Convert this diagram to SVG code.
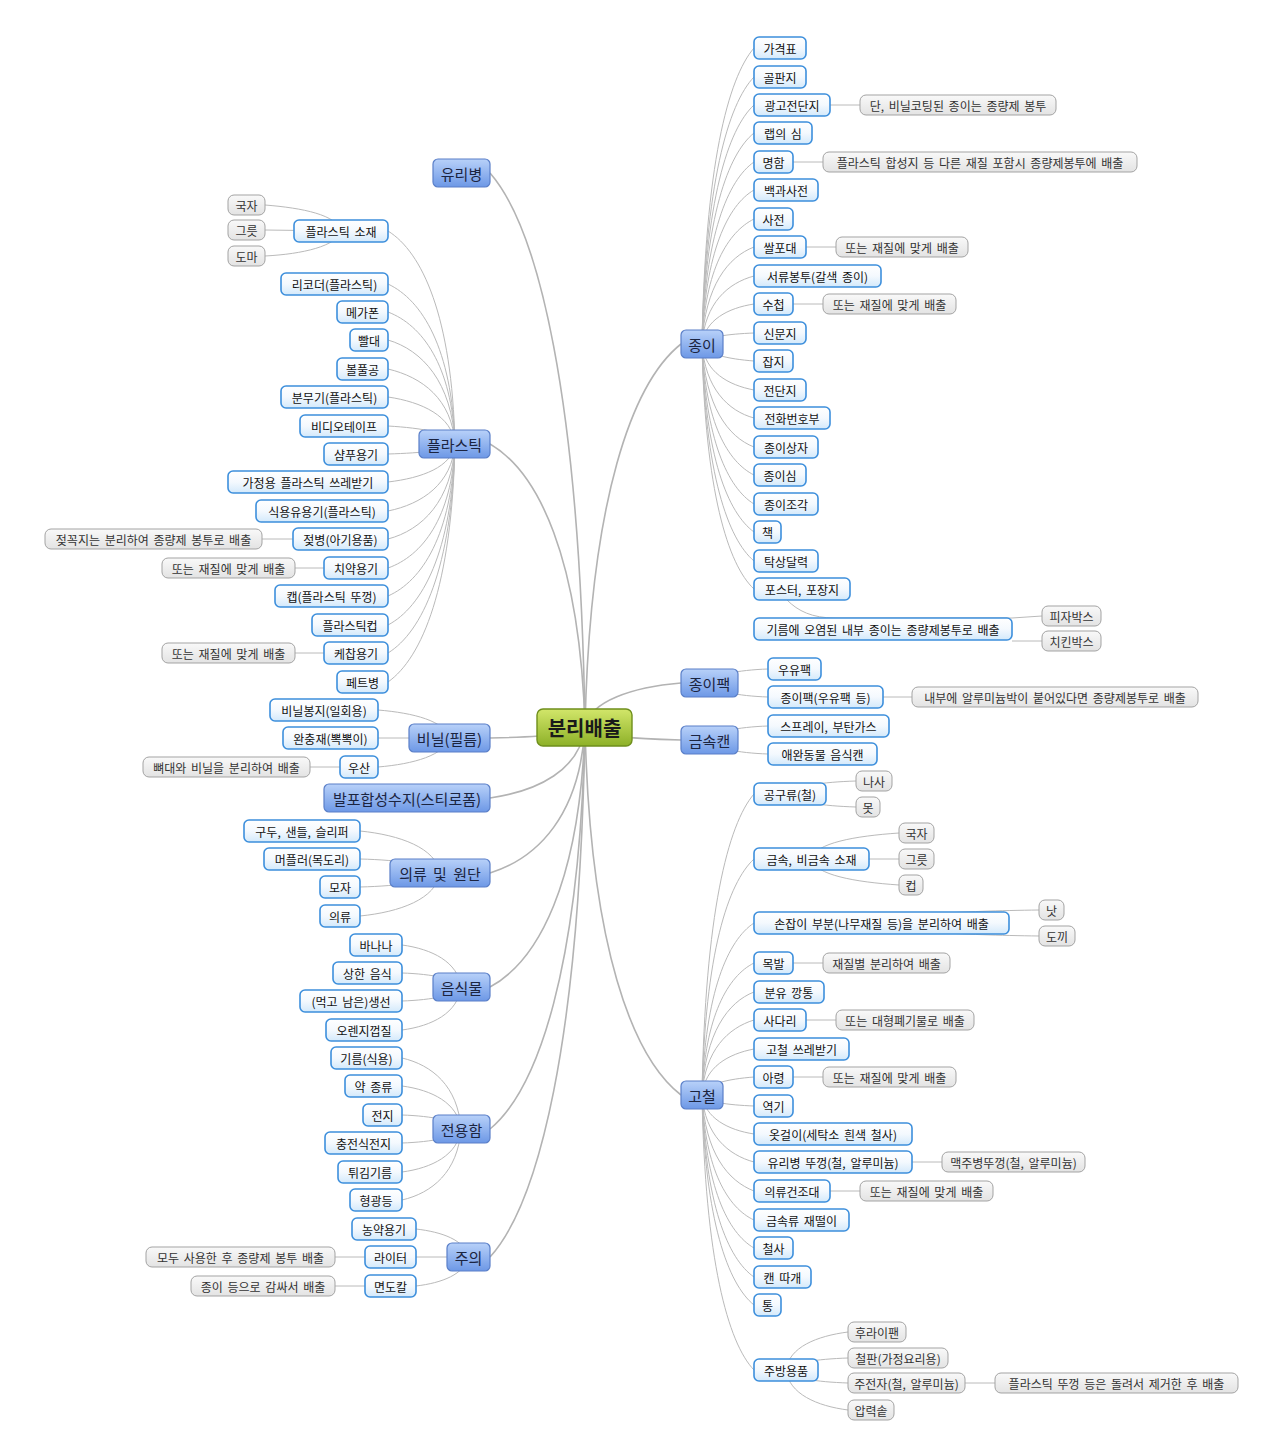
<svg xmlns="http://www.w3.org/2000/svg" width="1280" height="1456" viewBox="0 0 1280 1456">
<defs>
<linearGradient id="g0" x1="0" y1="0" x2="0" y2="1"><stop offset="0" stop-color="#d2e66a"/><stop offset="1" stop-color="#8db128"/></linearGradient>
<linearGradient id="g1" x1="0" y1="0" x2="0" y2="1"><stop offset="0" stop-color="#b8d1f9"/><stop offset="1" stop-color="#6d98e6"/></linearGradient>
<linearGradient id="g2" x1="0" y1="0" x2="0" y2="1"><stop offset="0" stop-color="#ffffff"/><stop offset="0.5" stop-color="#f4f9fe"/><stop offset="1" stop-color="#d3e9fb"/></linearGradient>
<linearGradient id="g3" x1="0" y1="0" x2="0" y2="1"><stop offset="0" stop-color="#f9f9f9"/><stop offset="1" stop-color="#e3e3e3"/></linearGradient>
</defs>
<style>
.c path{fill:none;stroke:#bababa;stroke-width:1}
.c .m{stroke:#b3b3b3;stroke-width:1.6}
.l1 rect{fill:url(#g1);stroke:#5a7fc8;stroke-width:1.2}
.l2 rect{fill:url(#g2);stroke:#3d8fdc;stroke-width:1.6}
.nt rect{fill:url(#g3);stroke:#a3a3a3;stroke-width:1}
text{font-family:"Noto Sans CJK KR","Noto Sans",sans-serif;text-anchor:middle;dominant-baseline:central}
.l1 text{font-size:15px;fill:#1b2440;word-spacing:3px}
.l2 text{font-size:12px;fill:#111;word-spacing:2px}
.nt text{font-size:12px;fill:#333;word-spacing:2px}
#root rect{fill:url(#g0);stroke:#6f8f1c;stroke-width:1.4}
#root text{font-size:20px;font-weight:bold;fill:#1a1a1a}
</style>
<rect width="1280" height="1456" fill="#ffffff"/>
<g class="c">
<path class="m" d="M585 727C580 395 538 228 490 173"/>
<path class="m" d="M585 727C580 557 538 472 490 444"/>
<path class="m" d="M585 727C580 734 538 737 490 738"/>
<path class="m" d="M585 727C580 770 538 791 490 798"/>
<path class="m" d="M585 727C580 815 538 858 490 873"/>
<path class="m" d="M585 727C580 883 538 961 490 987"/>
<path class="m" d="M585 727C580 968 538 1089 490 1129"/>
<path class="m" d="M585 727C580 1045 538 1204 490 1257"/>
<path class="m" d="M585 727C590 497 633 382 681 344"/>
<path class="m" d="M585 727C590 701 633 687 681 683"/>
<path class="m" d="M585 727C590 735 633 739 681 740"/>
<path class="m" d="M585 727C590 948 633 1058 681 1095"/>
<path d="M702 344C705 166 728 78 754 48"/>
<path d="M702 344C705 184 728 104 754 77"/>
<path d="M702 344C705 201 728 129 754 105"/>
<path d="M702 344C705 217 728 154 754 133"/>
<path d="M702 344C705 235 728 180 754 162"/>
<path d="M702 344C705 252 728 205 754 190"/>
<path d="M702 344C705 269 728 232 754 219"/>
<path d="M702 344C705 286 728 257 754 247"/>
<path d="M702 344C705 303 728 283 754 276"/>
<path d="M702 344C705 320 728 308 754 304"/>
<path d="M702 344C705 337 728 334 754 333"/>
<path d="M702 344C705 354 728 359 754 361"/>
<path d="M702 344C705 372 728 385 754 390"/>
<path d="M702 344C705 388 728 411 754 418"/>
<path d="M702 344C705 406 728 437 754 447"/>
<path d="M702 344C705 423 728 462 754 475"/>
<path d="M702 344C705 440 728 488 754 504"/>
<path d="M702 344C705 457 728 513 754 532"/>
<path d="M702 344C705 474 728 539 754 561"/>
<path d="M702 344C705 491 728 565 754 589"/>
<path d="M787 600C798 611 812 618 835 618L1012 618L1042 616"/>
<path d="M1012 641L1042 641"/>
<path d="M830 105L860 105"/>
<path d="M793 162L823 162"/>
<path d="M806 247L836 247"/>
<path d="M793 304L823 304"/>
<path d="M709 683C712 675 738 670 768 669"/>
<path d="M709 683C712 691 738 696 768 697"/>
<path d="M883 697L912 697"/>
<path d="M709 740C712 732 738 727 768 726"/>
<path d="M709 740C712 748 738 753 768 754"/>
<path d="M702 1095C705 914 728 824 754 794"/>
<path d="M702 1095C705 953 728 883 754 859"/>
<path d="M702 1095C705 992 728 940 754 923"/>
<path d="M702 1095C705 1016 728 976 754 963"/>
<path d="M702 1095C705 1033 728 1002 754 992"/>
<path d="M702 1095C705 1050 728 1028 754 1020"/>
<path d="M702 1095C705 1067 728 1054 754 1049"/>
<path d="M702 1095C705 1084 728 1079 754 1077"/>
<path d="M702 1095C705 1102 728 1105 754 1106"/>
<path d="M702 1095C705 1118 728 1130 754 1134"/>
<path d="M702 1095C705 1135 728 1155 754 1162"/>
<path d="M702 1095C705 1153 728 1181 754 1191"/>
<path d="M702 1095C705 1170 728 1208 754 1220"/>
<path d="M702 1095C705 1187 728 1233 754 1248"/>
<path d="M702 1095C705 1204 728 1259 754 1277"/>
<path d="M702 1095C705 1221 728 1284 754 1305"/>
<path d="M702 1095C705 1260 728 1343 754 1370"/>
<path d="M790 794C793 786 823 782 856 781"/>
<path d="M790 794C793 802 823 806 856 807"/>
<path d="M811 859C815 843 855 836 899 833"/>
<path d="M811 859L899 859"/>
<path d="M811 859C815 875 855 882 899 885"/>
<path d="M881 923C889 915 960 911 1039 910"/>
<path d="M881 923C889 931 960 935 1039 936"/>
<path d="M793 963L823 963"/>
<path d="M806 1020L836 1020"/>
<path d="M793 1077L823 1077"/>
<path d="M912 1162L942 1162"/>
<path d="M830 1191L860 1191"/>
<path d="M786 1370C789 1347 817 1336 848 1332"/>
<path d="M786 1370C789 1363 817 1359 848 1358"/>
<path d="M786 1370C789 1378 817 1382 848 1383"/>
<path d="M786 1370C789 1394 817 1406 848 1410"/>
<path d="M965 1383L995 1383"/>
<path d="M455 444C452 316 422 252 388 231"/>
<path d="M455 444C452 348 422 300 388 284"/>
<path d="M455 444C452 365 422 325 388 312"/>
<path d="M455 444C452 382 422 350 388 340"/>
<path d="M455 444C452 399 422 377 388 369"/>
<path d="M455 444C452 416 422 402 388 397"/>
<path d="M455 444C452 433 422 428 388 426"/>
<path d="M455 444C452 450 422 453 388 454"/>
<path d="M455 444C452 467 422 478 388 482"/>
<path d="M455 444C452 484 422 504 388 511"/>
<path d="M455 444C452 501 422 530 388 539"/>
<path d="M455 444C452 518 422 556 388 568"/>
<path d="M455 444C452 535 422 581 388 596"/>
<path d="M455 444C452 553 422 607 388 625"/>
<path d="M455 444C452 569 422 632 388 653"/>
<path d="M455 444C452 587 422 658 388 682"/>
<path d="M341 231C337 215 303 208 265 205"/>
<path d="M341 231L265 230"/>
<path d="M341 231C337 246 303 254 265 256"/>
<path d="M293 539L262 539"/>
<path d="M324 568L295 568"/>
<path d="M324 653L295 653"/>
<path d="M449 738C445 721 414 713 378 710"/>
<path d="M449 738L378 738"/>
<path d="M449 738C445 755 414 764 378 767"/>
<path d="M340 767L310 767"/>
<path d="M440 873C436 848 400 835 360 831"/>
<path d="M440 873C436 865 400 860 360 859"/>
<path d="M440 873C436 881 400 886 360 887"/>
<path d="M440 873C436 899 400 912 360 916"/>
<path d="M461 987C458 962 432 949 402 945"/>
<path d="M461 987C458 979 432 974 402 973"/>
<path d="M461 987C458 995 432 1000 402 1001"/>
<path d="M461 987C458 1013 432 1026 402 1030"/>
<path d="M461 1129C458 1086 432 1065 402 1058"/>
<path d="M461 1129C458 1103 432 1090 402 1086"/>
<path d="M461 1129C458 1121 432 1116 402 1115"/>
<path d="M461 1129C458 1137 432 1142 402 1143"/>
<path d="M461 1129C458 1155 432 1168 402 1172"/>
<path d="M461 1129C458 1172 432 1193 402 1200"/>
<path d="M468 1257C465 1240 442 1232 416 1229"/>
<path d="M468 1257L416 1257"/>
<path d="M468 1257C465 1274 442 1283 416 1286"/>
<path d="M365 1257L335 1257"/>
<path d="M365 1286L335 1286"/>
</g>
<g id="root"><rect x="537" y="709" width="95" height="37" rx="6"/><text x="584.5" y="727.5">분리배출</text></g>
<g id="n-yuribyeong" class="l1"><rect x="433" y="159" width="57" height="28" rx="5"/><text x="461.5" y="173">유리병</text></g>
<g id="n-plastic" class="l1"><rect x="419" y="430" width="71" height="28" rx="5"/><text x="454.5" y="444">플라스틱</text></g>
<g id="n-vinyl" class="l1"><rect x="409" y="724" width="81" height="28" rx="5"/><text x="449.5" y="738">비닐(필름)</text></g>
<g id="n-styro" class="l1"><rect x="324" y="784" width="166" height="28" rx="5"/><text x="407" y="798">발포합성수지(스티로폼)</text></g>
<g id="n-cloth" class="l1"><rect x="390" y="859" width="100" height="28" rx="5"/><text x="440" y="873">의류 및 원단</text></g>
<g id="n-food" class="l1"><rect x="433" y="973" width="57" height="28" rx="5"/><text x="461.5" y="987">음식물</text></g>
<g id="n-special" class="l1"><rect x="433" y="1115" width="57" height="28" rx="5"/><text x="461.5" y="1129">전용함</text></g>
<g id="n-caution" class="l1"><rect x="447" y="1243" width="43" height="28" rx="5"/><text x="468.5" y="1257">주의</text></g>
<g id="n-paper" class="l1"><rect x="681" y="330" width="42" height="28" rx="5"/><text x="702" y="344">종이</text></g>
<g id="n-paperpack" class="l1"><rect x="681" y="669" width="57" height="28" rx="5"/><text x="709.5" y="683">종이팩</text></g>
<g id="n-can" class="l1"><rect x="681" y="726" width="57" height="28" rx="5"/><text x="709.5" y="740">금속캔</text></g>
<g id="n-scrap" class="l1"><rect x="681" y="1081" width="42" height="28" rx="5"/><text x="702" y="1095">고철</text></g>
<g id="p1" class="l2"><rect x="754" y="37" width="52" height="22" rx="5"/><text x="780" y="48">가격표</text></g>
<g id="p2" class="l2"><rect x="754" y="66" width="52" height="22" rx="5"/><text x="780" y="77">골판지</text></g>
<g id="p3" class="l2"><rect x="754" y="94" width="76" height="22" rx="5"/><text x="792" y="105">광고전단지</text></g>
<g id="p4" class="l2"><rect x="754" y="122" width="58" height="22" rx="5"/><text x="783" y="133">랩의 심</text></g>
<g id="p5" class="l2"><rect x="754" y="151" width="39" height="22" rx="5"/><text x="773.5" y="162">명함</text></g>
<g id="p6" class="l2"><rect x="754" y="179" width="64" height="22" rx="5"/><text x="786" y="190">백과사전</text></g>
<g id="p7" class="l2"><rect x="754" y="208" width="39" height="22" rx="5"/><text x="773.5" y="219">사전</text></g>
<g id="p8" class="l2"><rect x="754" y="236" width="52" height="22" rx="5"/><text x="780" y="247">쌀포대</text></g>
<g id="p9" class="l2"><rect x="754" y="265" width="127" height="22" rx="5"/><text x="817.5" y="276">서류봉투(갈색 종이)</text></g>
<g id="p10" class="l2"><rect x="754" y="293" width="39" height="22" rx="5"/><text x="773.5" y="304">수첩</text></g>
<g id="p11" class="l2"><rect x="754" y="322" width="52" height="22" rx="5"/><text x="780" y="333">신문지</text></g>
<g id="p12" class="l2"><rect x="754" y="350" width="39" height="22" rx="5"/><text x="773.5" y="361">잡지</text></g>
<g id="p13" class="l2"><rect x="754" y="379" width="52" height="22" rx="5"/><text x="780" y="390">전단지</text></g>
<g id="p14" class="l2"><rect x="754" y="407" width="76" height="22" rx="5"/><text x="792" y="418">전화번호부</text></g>
<g id="p15" class="l2"><rect x="754" y="436" width="64" height="22" rx="5"/><text x="786" y="447">종이상자</text></g>
<g id="p16" class="l2"><rect x="754" y="464" width="52" height="22" rx="5"/><text x="780" y="475">종이심</text></g>
<g id="p17" class="l2"><rect x="754" y="493" width="64" height="22" rx="5"/><text x="786" y="504">종이조각</text></g>
<g id="p18" class="l2"><rect x="754" y="521" width="27" height="22" rx="5"/><text x="767.5" y="532">책</text></g>
<g id="p19" class="l2"><rect x="754" y="550" width="64" height="22" rx="5"/><text x="786" y="561">탁상달력</text></g>
<g id="p20" class="l2"><rect x="754" y="578" width="96" height="22" rx="5"/><text x="802" y="589">포스터, 포장지</text></g>
<g id="p21" class="l2"><rect x="754" y="618" width="258" height="22" rx="5"/><text x="883" y="629">기름에 오염된 내부 종이는 종량제봉투로 배출</text></g>
<g id="p21a" class="nt"><rect x="1042" y="606" width="59" height="20" rx="6"/><text x="1071.5" y="616">피자박스</text></g>
<g id="p21b" class="nt"><rect x="1042" y="631" width="59" height="20" rx="6"/><text x="1071.5" y="641">치킨박스</text></g>
<g id="p3n" class="nt"><rect x="860" y="95" width="196" height="20" rx="6"/><text x="958" y="105">단, 비닐코팅된 종이는 종량제 봉투</text></g>
<g id="p5n" class="nt"><rect x="823" y="152" width="314" height="20" rx="6"/><text x="980" y="162">플라스틱 합성지 등 다른 재질 포함시 종량제봉투에 배출</text></g>
<g id="p8n" class="nt"><rect x="836" y="237" width="132" height="20" rx="6"/><text x="902" y="247">또는 재질에 맞게 배출</text></g>
<g id="p10n" class="nt"><rect x="823" y="294" width="133" height="20" rx="6"/><text x="889.5" y="304">또는 재질에 맞게 배출</text></g>
<g id="k1" class="l2"><rect x="768" y="658" width="53" height="22" rx="5"/><text x="794.5" y="669">우유팩</text></g>
<g id="k2" class="l2"><rect x="768" y="686" width="115" height="22" rx="5"/><text x="825.5" y="697">종이팩(우유팩 등)</text></g>
<g id="k2n" class="nt"><rect x="912" y="687" width="286" height="20" rx="6"/><text x="1055" y="697">내부에 알루미늄박이 붙어있다면 종량제봉투로 배출</text></g>
<g id="m1" class="l2"><rect x="768" y="715" width="121" height="22" rx="5"/><text x="828.5" y="726">스프레이, 부탄가스</text></g>
<g id="m2" class="l2"><rect x="768" y="743" width="109" height="22" rx="5"/><text x="822.5" y="754">애완동물 음식캔</text></g>
<g id="s1" class="l2"><rect x="754" y="783" width="72" height="22" rx="5"/><text x="790" y="794">공구류(철)</text></g>
<g id="s1a" class="nt"><rect x="856" y="771" width="36" height="20" rx="6"/><text x="874" y="781">나사</text></g>
<g id="s1b" class="nt"><rect x="856" y="797" width="24" height="20" rx="6"/><text x="868" y="807">못</text></g>
<g id="s2" class="l2"><rect x="754" y="848" width="115" height="22" rx="5"/><text x="811.5" y="859">금속, 비금속 소재</text></g>
<g id="s2a" class="nt"><rect x="899" y="823" width="35" height="20" rx="6"/><text x="916.5" y="833">국자</text></g>
<g id="s2b" class="nt"><rect x="899" y="849" width="35" height="20" rx="6"/><text x="916.5" y="859">그릇</text></g>
<g id="s2c" class="nt"><rect x="899" y="875" width="24" height="20" rx="6"/><text x="911" y="885">컵</text></g>
<g id="s3" class="l2"><rect x="754" y="912" width="255" height="22" rx="5"/><text x="881.5" y="923">손잡이 부분(나무재질 등)을 분리하여 배출</text></g>
<g id="s3a" class="nt"><rect x="1039" y="900" width="25" height="20" rx="6"/><text x="1051.5" y="910">낫</text></g>
<g id="s3b" class="nt"><rect x="1039" y="926" width="36" height="20" rx="6"/><text x="1057" y="936">도끼</text></g>
<g id="s4" class="l2"><rect x="754" y="952" width="39" height="22" rx="5"/><text x="773.5" y="963">목발</text></g>
<g id="s4n" class="nt"><rect x="823" y="953" width="127" height="20" rx="6"/><text x="886.5" y="963">재질별 분리하여 배출</text></g>
<g id="s5" class="l2"><rect x="754" y="981" width="70" height="22" rx="5"/><text x="789" y="992">분유 깡통</text></g>
<g id="s6" class="l2"><rect x="754" y="1009" width="52" height="22" rx="5"/><text x="780" y="1020">사다리</text></g>
<g id="s6n" class="nt"><rect x="836" y="1010" width="138" height="20" rx="6"/><text x="905" y="1020">또는 대형폐기물로 배출</text></g>
<g id="s7" class="l2"><rect x="754" y="1038" width="95" height="22" rx="5"/><text x="801.5" y="1049">고철 쓰레받기</text></g>
<g id="s8" class="l2"><rect x="754" y="1066" width="39" height="22" rx="5"/><text x="773.5" y="1077">아령</text></g>
<g id="s8n" class="nt"><rect x="823" y="1067" width="133" height="20" rx="6"/><text x="889.5" y="1077">또는 재질에 맞게 배출</text></g>
<g id="s9" class="l2"><rect x="754" y="1095" width="39" height="22" rx="5"/><text x="773.5" y="1106">역기</text></g>
<g id="s10" class="l2"><rect x="754" y="1123" width="158" height="22" rx="5"/><text x="833" y="1134">옷걸이(세탁소 흰색 철사)</text></g>
<g id="s11" class="l2"><rect x="754" y="1151" width="158" height="22" rx="5"/><text x="833" y="1162">유리병 뚜껑(철, 알루미늄)</text></g>
<g id="s11n" class="nt"><rect x="942" y="1152" width="143" height="20" rx="6"/><text x="1013.5" y="1162">맥주병뚜껑(철, 알루미늄)</text></g>
<g id="s12" class="l2"><rect x="754" y="1180" width="76" height="22" rx="5"/><text x="792" y="1191">의류건조대</text></g>
<g id="s12n" class="nt"><rect x="860" y="1181" width="133" height="20" rx="6"/><text x="926.5" y="1191">또는 재질에 맞게 배출</text></g>
<g id="s13" class="l2"><rect x="754" y="1209" width="95" height="22" rx="5"/><text x="801.5" y="1220">금속류 재떨이</text></g>
<g id="s14" class="l2"><rect x="754" y="1237" width="39" height="22" rx="5"/><text x="773.5" y="1248">철사</text></g>
<g id="s15" class="l2"><rect x="754" y="1266" width="57" height="22" rx="5"/><text x="782.5" y="1277">캔 따개</text></g>
<g id="s16" class="l2"><rect x="754" y="1294" width="27" height="22" rx="5"/><text x="767.5" y="1305">통</text></g>
<g id="s17" class="l2"><rect x="754" y="1359" width="64" height="22" rx="5"/><text x="786" y="1370">주방용품</text></g>
<g id="s17a" class="nt"><rect x="848" y="1322" width="58" height="20" rx="6"/><text x="877" y="1332">후라이팬</text></g>
<g id="s17b" class="nt"><rect x="848" y="1348" width="100" height="20" rx="6"/><text x="898" y="1358">철판(가정요리용)</text></g>
<g id="s17c" class="nt"><rect x="848" y="1373" width="117" height="20" rx="6"/><text x="906.5" y="1383">주전자(철, 알루미늄)</text></g>
<g id="s17d" class="nt"><rect x="848" y="1400" width="46" height="20" rx="6"/><text x="871" y="1410">압력솥</text></g>
<g id="s17cn" class="nt"><rect x="995" y="1373" width="243" height="20" rx="6"/><text x="1116.5" y="1383">플라스틱 뚜껑 등은 돌려서 제거한 후 배출</text></g>
<g id="a0" class="l2"><rect x="294" y="220" width="94" height="22" rx="5"/><text x="341" y="231">플라스틱 소재</text></g>
<g id="a0a" class="nt"><rect x="228" y="195" width="37" height="20" rx="6"/><text x="246.5" y="205">국자</text></g>
<g id="a0b" class="nt"><rect x="228" y="220" width="37" height="20" rx="6"/><text x="246.5" y="230">그릇</text></g>
<g id="a0c" class="nt"><rect x="228" y="246" width="37" height="20" rx="6"/><text x="246.5" y="256">도마</text></g>
<g id="a1" class="l2"><rect x="281" y="273" width="107" height="22" rx="5"/><text x="334.5" y="284">리코더(플라스틱)</text></g>
<g id="a2" class="l2"><rect x="337" y="301" width="51" height="22" rx="5"/><text x="362.5" y="312">메가폰</text></g>
<g id="a3" class="l2"><rect x="350" y="329" width="38" height="22" rx="5"/><text x="369" y="340">빨대</text></g>
<g id="a4" class="l2"><rect x="337" y="358" width="51" height="22" rx="5"/><text x="362.5" y="369">볼풀공</text></g>
<g id="a5" class="l2"><rect x="281" y="386" width="107" height="22" rx="5"/><text x="334.5" y="397">분무기(플라스틱)</text></g>
<g id="a6" class="l2"><rect x="300" y="415" width="88" height="22" rx="5"/><text x="344" y="426">비디오테이프</text></g>
<g id="a7" class="l2"><rect x="324" y="443" width="64" height="22" rx="5"/><text x="356" y="454">샴푸용기</text></g>
<g id="a8" class="l2"><rect x="228" y="471" width="160" height="22" rx="5"/><text x="308" y="482">가정용 플라스틱 쓰레받기</text></g>
<g id="a9" class="l2"><rect x="256" y="500" width="132" height="22" rx="5"/><text x="322" y="511">식용유용기(플라스틱)</text></g>
<g id="a10" class="l2"><rect x="293" y="528" width="95" height="22" rx="5"/><text x="340.5" y="539">젖병(아기용품)</text></g>
<g id="a10n" class="nt"><rect x="45" y="529" width="217" height="20" rx="6"/><text x="153.5" y="539">젖꼭지는 분리하여 종량제 봉투로 배출</text></g>
<g id="a11" class="l2"><rect x="324" y="557" width="64" height="22" rx="5"/><text x="356" y="568">치약용기</text></g>
<g id="a11n" class="nt"><rect x="162" y="558" width="133" height="20" rx="6"/><text x="228.5" y="568">또는 재질에 맞게 배출</text></g>
<g id="a12" class="l2"><rect x="275" y="585" width="113" height="22" rx="5"/><text x="331.5" y="596">캡(플라스틱 뚜껑)</text></g>
<g id="a13" class="l2"><rect x="312" y="614" width="76" height="22" rx="5"/><text x="350" y="625">플라스틱컵</text></g>
<g id="a14" class="l2"><rect x="324" y="642" width="64" height="22" rx="5"/><text x="356" y="653">케찹용기</text></g>
<g id="a14n" class="nt"><rect x="162" y="643" width="133" height="20" rx="6"/><text x="228.5" y="653">또는 재질에 맞게 배출</text></g>
<g id="a15" class="l2"><rect x="337" y="671" width="51" height="22" rx="5"/><text x="362.5" y="682">페트병</text></g>
<g id="b1" class="l2"><rect x="270" y="699" width="108" height="22" rx="5"/><text x="324" y="710">비닐봉지(일회용)</text></g>
<g id="b2" class="l2"><rect x="283" y="727" width="95" height="22" rx="5"/><text x="330.5" y="738">완충재(뽁뽁이)</text></g>
<g id="b3" class="l2"><rect x="340" y="756" width="38" height="22" rx="5"/><text x="359" y="767">우산</text></g>
<g id="b3n" class="nt"><rect x="143" y="757" width="167" height="20" rx="6"/><text x="226.5" y="767">뼈대와 비닐을 분리하여 배출</text></g>
<g id="c1" class="l2"><rect x="244" y="820" width="116" height="22" rx="5"/><text x="302" y="831">구두, 샌들, 슬리퍼</text></g>
<g id="c2" class="l2"><rect x="264" y="848" width="96" height="22" rx="5"/><text x="312" y="859">머플러(목도리)</text></g>
<g id="c3" class="l2"><rect x="320" y="876" width="40" height="22" rx="5"/><text x="340" y="887">모자</text></g>
<g id="c4" class="l2"><rect x="320" y="905" width="40" height="22" rx="5"/><text x="340" y="916">의류</text></g>
<g id="f1" class="l2"><rect x="350" y="934" width="52" height="22" rx="5"/><text x="376" y="945">바나나</text></g>
<g id="f2" class="l2"><rect x="333" y="962" width="69" height="22" rx="5"/><text x="367.5" y="973">상한 음식</text></g>
<g id="f3" class="l2"><rect x="300" y="990" width="102" height="22" rx="5"/><text x="351" y="1001">(먹고 남은)생선</text></g>
<g id="f4" class="l2"><rect x="326" y="1019" width="76" height="22" rx="5"/><text x="364" y="1030">오렌지껍질</text></g>
<g id="e1" class="l2"><rect x="331" y="1047" width="71" height="22" rx="5"/><text x="366.5" y="1058">기름(식용)</text></g>
<g id="e2" class="l2"><rect x="345" y="1075" width="57" height="22" rx="5"/><text x="373.5" y="1086">약 종류</text></g>
<g id="e3" class="l2"><rect x="363" y="1104" width="39" height="22" rx="5"/><text x="382.5" y="1115">전지</text></g>
<g id="e4" class="l2"><rect x="325" y="1132" width="77" height="22" rx="5"/><text x="363.5" y="1143">충전식전지</text></g>
<g id="e5" class="l2"><rect x="338" y="1161" width="64" height="22" rx="5"/><text x="370" y="1172">튀김기름</text></g>
<g id="e6" class="l2"><rect x="350" y="1189" width="52" height="22" rx="5"/><text x="376" y="1200">형광등</text></g>
<g id="w1" class="l2"><rect x="352" y="1218" width="64" height="22" rx="5"/><text x="384" y="1229">농약용기</text></g>
<g id="w2" class="l2"><rect x="365" y="1246" width="51" height="22" rx="5"/><text x="390.5" y="1257">라이터</text></g>
<g id="w2n" class="nt"><rect x="146" y="1247" width="189" height="20" rx="6"/><text x="240.5" y="1257">모두 사용한 후 종량제 봉투 배출</text></g>
<g id="w3" class="l2"><rect x="365" y="1275" width="51" height="22" rx="5"/><text x="390.5" y="1286">면도칼</text></g>
<g id="w3n" class="nt"><rect x="191" y="1276" width="144" height="20" rx="6"/><text x="263" y="1286">종이 등으로 감싸서 배출</text></g>
</svg>
